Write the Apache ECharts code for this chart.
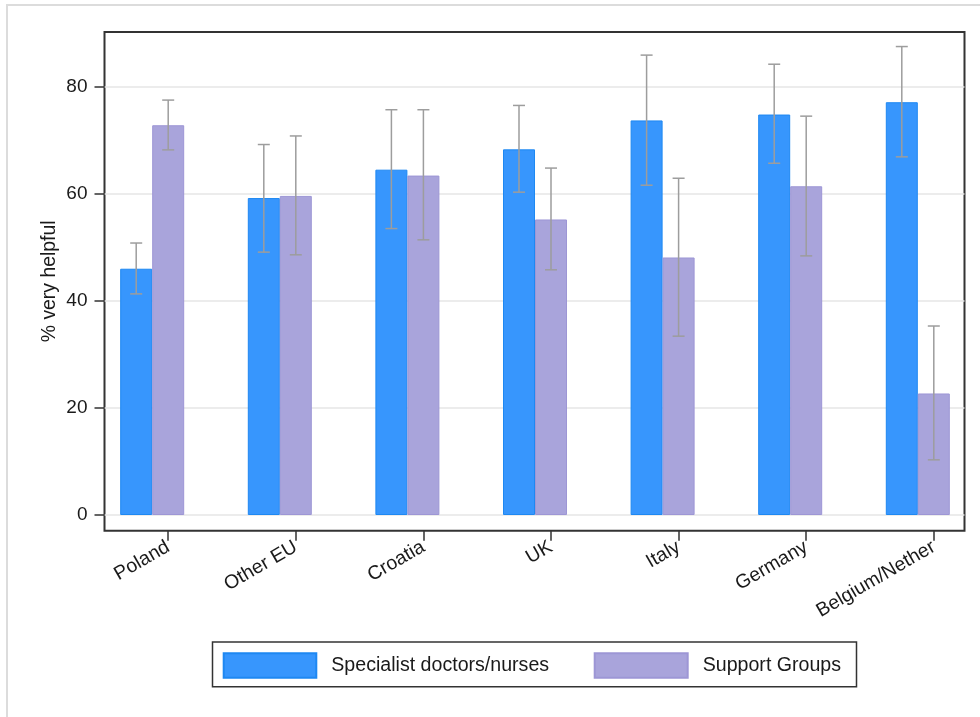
<!DOCTYPE html>
<html>
<head>
<meta charset="utf-8">
<script src="https://cdn.jsdelivr.net/npm/echarts@6/dist/echarts.min.js"></script>
<style>
  html, body { margin: 0; padding: 0; background: #fff; }
  #chart { width: 980px; height: 717px; }
</style>
</head>
<body>
<div id="chart"></div>
<script>
// Countries on the horizontal axis
const categories = ['Poland', 'Other EU', 'Croatia', 'UK', 'Italy', 'Germany', 'Belgium/Nether'];

// % rating each source "very helpful", with confidence limits
const specialist     = [46.0, 59.2, 64.5, 68.3, 73.7, 74.8, 77.1];
const specialistLow  = [41.3, 49.1, 53.5, 60.3, 61.6, 65.7, 66.9];
const specialistHigh = [50.8, 69.2, 75.7, 76.5, 85.9, 84.2, 87.5];

const support     = [72.8, 59.6, 63.4, 55.2, 48.1, 61.4, 22.7];
const supportLow  = [68.2, 48.6, 51.4, 45.8, 33.4, 48.4, 10.3];
const supportHigh = [77.5, 70.8, 75.7, 64.8, 62.9, 74.5, 35.3];

const seriesNames = ['Specialist doctors/nurses', 'Support Groups'];
const yTickMin = 0, yTickMax = 80, yTickStep = 20;

const FONT = '"Liberation Sans", Arial, sans-serif';
const BLUE = '#3796fd', BLUE_EDGE = '#1e88f2';
const PURPLE = '#a9a4db', PURPLE_EDGE = '#9d96d5';

// plot frame geometry
const frame = { left: 104.5, top: 32, width: 860, height: 498.7 };
const valTop = 86.7, valHeight = 428.3;          // rows spanned by 0..80
const band = 127.6, barW = 32;                     // category spacing and bar width
const groupLeft = 152.2 - band / 2;               // first group centre at 152.2

function errorSeries(name, low, high, offset) {
  return {
    type: 'custom',
    name: name + ' CI',
    xAxisIndex: 2, yAxisIndex: 2,
    silent: true,
    z: 5,
    data: low.map((l, i) => [i, l, high[i]]),
    renderItem: function (params, api) {
      const x = api.coord([api.value(0), 0])[0] + offset;
      const yl = api.coord([api.value(0), api.value(1)])[1];
      const yh = api.coord([api.value(0), api.value(2)])[1];
      const st = { stroke: '#9d9d9d', lineWidth: 1.5 };
      return {
        type: 'group',
        children: [
          { type: 'line', shape: { x1: x, y1: yl, x2: x, y2: yh }, style: st },
          { type: 'line', shape: { x1: x - 6, y1: yh, x2: x + 6, y2: yh }, style: st },
          { type: 'line', shape: { x1: x - 6, y1: yl, x2: x + 6, y2: yl }, style: st }
        ]
      };
    }
  };
}

const chart = echarts.init(document.getElementById('chart'), null, { renderer: 'canvas' });

chart.setOption({
  animation: false,
  backgroundColor: '#fff',
  textStyle: { fontFamily: FONT },
  graphic: [
    { type: 'rect', z: -10, shape: { x: 7, y: 5, width: 1000, height: 1000 },
      style: { fill: 'none', stroke: '#dcdcdc', lineWidth: 2 } },
    { type: 'rect', shape: { x: 212.5, y: 642, width: 644, height: 44.7 },
      style: { fill: '#fff', stroke: '#333', lineWidth: 1.5 }, z: 1 }
  ],
  legend: [
    { data: [seriesNames[0]], left: 222.7, top: 652.3, padding: 0,
      itemWidth: 92.6, itemHeight: 24.4, icon: 'rect', z: 10,
      textStyle: { fontSize: 19.6, color: '#1a1a1a', padding: [0, 0, 0, 10] } },
    { data: [seriesNames[1]], left: 593.7, top: 652.3, padding: 0,
      itemWidth: 93, itemHeight: 24.4, icon: 'rect', z: 10,
      textStyle: { fontSize: 19.6, color: '#1a1a1a', padding: [0, 0, 0, 10] } }
  ],
  grid: [
    // 0: frame
    { left: frame.left, top: frame.top, width: frame.width, height: frame.height,
      show: true, borderColor: '#333', borderWidth: 2, backgroundColor: 'transparent',
      outerBoundsMode: 'none', containLabel: false },
    // 1: gridlines and value labels
    { left: frame.left, top: valTop, width: frame.width, height: valHeight,
      outerBoundsMode: 'none', containLabel: false },
    // 2: bars
    { left: groupLeft, top: valTop, width: band * categories.length, height: valHeight,
      outerBoundsMode: 'none', containLabel: false },
    // 3: category ticks and labels (sit under the second bar of each pair)
    { left: groupLeft + barW / 2, top: frame.top, width: band * categories.length, height: frame.height,
      outerBoundsMode: 'none', containLabel: false }
  ],
  xAxis: [
    { gridIndex: 0, type: 'value', show: false, min: 0, max: 1 },
    { gridIndex: 1, type: 'value', show: false, min: 0, max: 1 },
    { gridIndex: 2, type: 'category', data: categories, show: false, boundaryGap: true },
    { gridIndex: 3, type: 'category', data: categories, boundaryGap: true,
      axisLine: { show: false },
      axisTick: { show: true, alignWithLabel: true, length: 10, lineStyle: { color: '#333', width: 1.5 } },
      axisLabel: { rotate: 30, fontSize: 19.4, color: '#1a1a1a', margin: 15, interval: 0 } }
  ],
  yAxis: [
    { gridIndex: 0, type: 'value', min: 0, max: 1,
      axisLine: { show: false }, axisTick: { show: false }, axisLabel: { show: false },
      splitLine: { show: false },
      name: '% very helpful', nameLocation: 'middle', nameGap: 45,
      nameTextStyle: { fontSize: 19.4, color: '#1a1a1a' } },
    { gridIndex: 1, type: 'value', min: yTickMin, max: yTickMax, interval: yTickStep,
      axisLine: { show: false },
      axisTick: { show: true, length: 10, lineStyle: { color: '#333', width: 1.5 } },
      axisLabel: { fontSize: 19, color: '#1a1a1a', margin: 17 },
      splitLine: { show: true, lineStyle: { color: '#e6e6e6', width: 1.5 } } },
    { gridIndex: 2, type: 'value', min: yTickMin, max: yTickMax, show: false },
    { gridIndex: 3, type: 'value', min: 0, max: 1, show: false }
  ],
  series: [
    { type: 'bar', name: seriesNames[0], xAxisIndex: 2, yAxisIndex: 2,
      data: specialist, barWidth: barW, barGap: '0%',
      itemStyle: { color: BLUE, borderColor: BLUE_EDGE, borderWidth: 1 } },
    { type: 'bar', name: seriesNames[1], xAxisIndex: 2, yAxisIndex: 2,
      data: support, barWidth: barW, barGap: '0%',
      itemStyle: { color: PURPLE, borderColor: PURPLE_EDGE, borderWidth: 1 } },
    errorSeries(seriesNames[0], specialistLow, specialistHigh, -barW / 2),
    errorSeries(seriesNames[1], supportLow, supportHigh, barW / 2)
  ]
});
</script>
</body>
</html>
